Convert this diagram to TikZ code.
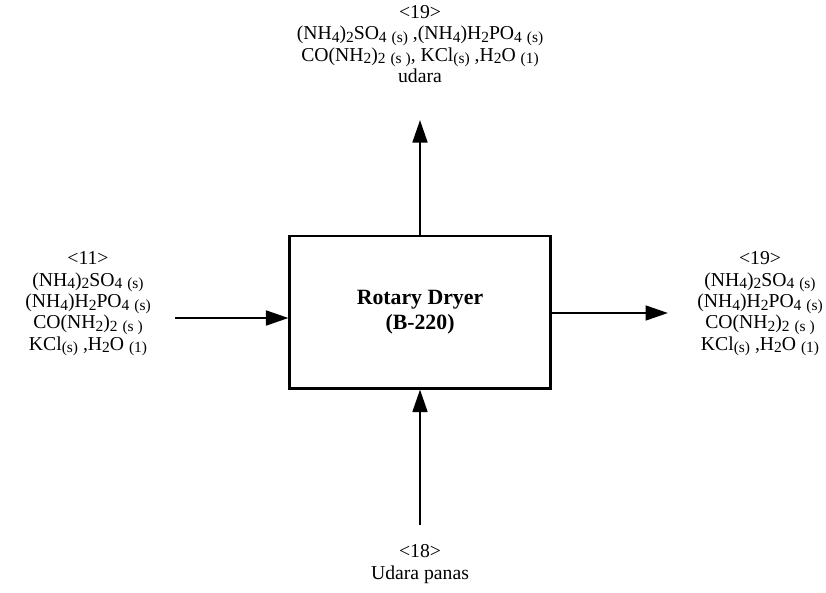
\documentclass[tikz,border=0pt]{standalone}
\usepackage{fontspec}
\setmainfont{Liberation Serif}
\usetikzlibrary{arrows.meta}
\newcommand{\chsub}[1]{\raisebox{-0.3ex}{\fontsize{11}{11}\selectfont #1}}

\begin{document}
\begin{tikzpicture}[x=0.025cm,y=-0.025cm,
  unit/.style={draw,line width=2.1pt,minimum width=6.5cm,minimum height=3.8cm,align=center,font=\fontsize{15.5}{18}\selectfont\bfseries},
  stream/.style={align=center,inner sep=0pt,font=\fontsize{14}{15.2}\selectfont},
  flow/.style={-{Triangle[length=16pt,width=10.5pt]},line width=1.7pt}]
\useasboundingbox (0,0) rectangle (826,592);
\node[unit] (dryer) at (420,312) {Rotary Dryer\\(B-220)};
% arus masuk dan keluar
\node[stream] (s11) at (88,304) {<11>\\(NH\chsub{4})\chsub{2}SO\chsub{4} \chsub{(s)}\\(NH\chsub{4})H\chsub{2}PO\chsub{4} \chsub{(s)}\\CO(NH\chsub{2})\chsub{2} \chsub{(s )}\\KCl\chsub{(s)} ,H\chsub{2}O \chsub{(1)}};
\node[stream] (s19r) at (760,304) {<19>\\(NH\chsub{4})\chsub{2}SO\chsub{4} \chsub{(s)}\\(NH\chsub{4})H\chsub{2}PO\chsub{4} \chsub{(s)}\\CO(NH\chsub{2})\chsub{2} \chsub{(s )}\\KCl\chsub{(s)} ,H\chsub{2}O \chsub{(1)}};
\node[stream] (s19t) at (420,44) {<19>\\(NH\chsub{4})\chsub{2}SO\chsub{4} \chsub{(s)} ,(NH\chsub{4})H\chsub{2}PO\chsub{4} \chsub{(s)}\\CO(NH\chsub{2})\chsub{2} \chsub{(s )}, KCl\chsub{(s)} ,H\chsub{2}O \chsub{(1)}\\udara};
\node[stream] (s18) at (420,564) {<18>\\Udara panas};
\coordinate (inL) at (175,318);
\coordinate (outR) at (668,313);
\coordinate (outT) at (420,120);
\coordinate (inB) at (420,525);
\draw[flow] (inL) -- (dryer.west |- inL);
\draw[flow] (dryer.east |- outR) -- (outR);
\draw[flow] (dryer.north) -- (outT);
\draw[flow] (inB) -- (dryer.south);
\end{tikzpicture}
\end{document}
